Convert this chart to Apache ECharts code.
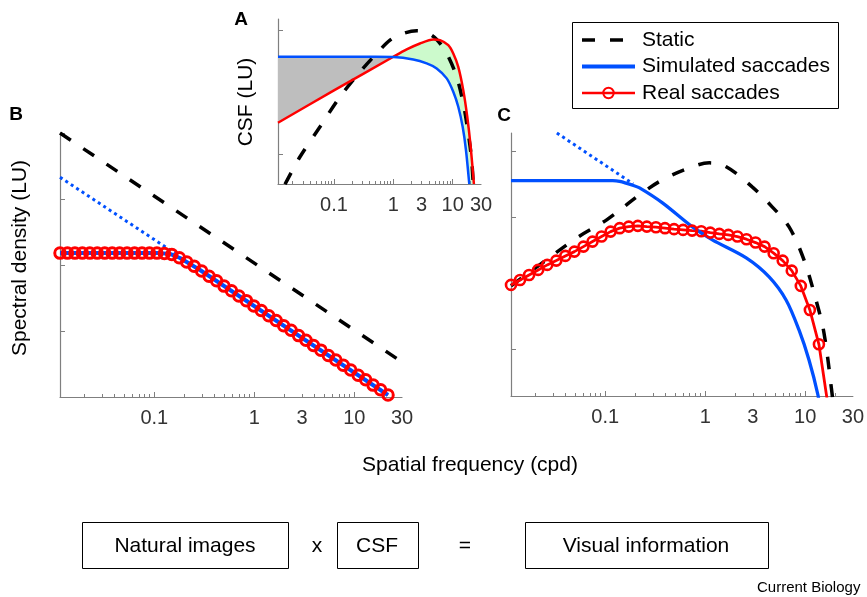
<!DOCTYPE html>
<html>
<head>
<meta charset="utf-8">
<script src="https://cdn.jsdelivr.net/npm/echarts@6/dist/echarts.min.js"></script>
<style>
  html, body { margin: 0; padding: 0; background: #fff; }
  #chart { width: 867px; height: 597px; }
</style>
</head>
<body>
<div id="chart"></div>
<script>
// spatial frequency range shared by all three panels (cpd)
const X_MIN = 0.0114
const X_MAX = 30
const tickLabels = [0.1, 1, 3, 10, 30]
const majorTicks = [0.1, 1, 10]
const minorTicks = [0.02, 0.03, 0.04, 0.05, 0.06, 0.07, 0.08, 0.09,
  0.2, 0.3, 0.4, 0.5, 0.6, 0.7, 0.8, 0.9,
  2, 3, 4, 5, 6, 7, 8, 9, 20]

// A: contrast sensitivity (log units)
const csfStaticX = [0.01496, 0.02679, 0.0582, 0.1263, 0.2742, 0.5248, 0.879, 1.473, 2.477, 3.648, 5.375, 7.925, 11.67, 15.07, 18.31, 20.89, 22.2]
const csfStaticY = [0.511, 0.956, 1.44, 1.924, 2.327, 2.624, 2.839, 2.947, 2.989, 2.963, 2.85, 2.624, 2.247, 1.818, 1.334, 0.903, 0.516]
const csfRealX = [0.0114, 0.1, 1.0, 1.68, 2.812, 4.714, 6.11, 8.43, 10.23, 12.42, 15.07, 17.6, 20.09, 22.8]
const csfRealY = [1.505, 2.027, 2.57, 2.689, 2.785, 2.85, 2.839, 2.758, 2.624, 2.408, 2.032, 1.602, 1.118, 0.516]
const csfSimX = [0.0114, 0.5, 1.0, 2.168, 3.648, 5.375, 7.925, 10.23, 12.42, 14.73, 16.74, 19.04]
const csfSimY = [2.569, 2.569, 2.566, 2.527, 2.463, 2.382, 2.221, 2.005, 1.763, 1.44, 1.065, 0.516]

// B: spectral density of the input (log units)
const specStaticX = [0.0114, 30]
const specStaticY = [4.0, 0.53]
const specDottedX = [0.0114, 0.16]
const specDottedY = [3.33, 2.18]
const specSimX = [0.0114, 0.114, 0.1435, 0.1807, 0.2275, 0.2864, 21.7]
const specSimY = [2.18, 2.18, 2.167, 2.106, 2.015, 1.924, 0.03]
const specRealX = [0.0114, 0.01353, 0.01607, 0.01908, 0.02265, 0.02689, 0.03193, 0.03791, 0.04501, 0.05343,
  0.06345, 0.07534, 0.08945, 0.1062, 0.1261, 0.1497, 0.1778, 0.211, 0.2506, 0.2975,
  0.3532, 0.4194, 0.4979, 0.5911, 0.7019, 0.8334, 0.9892, 1.174, 1.394, 1.655,
  1.966, 2.333, 2.771, 3.289, 3.906, 4.637, 5.506, 6.536, 7.761, 9.213,
  10.94, 12.99, 15.42, 18.31, 21.74]
const specRealY = [2.18, 2.18, 2.18, 2.18, 2.18, 2.18, 2.18, 2.18, 2.18, 2.18,
  2.18, 2.18, 2.18, 2.18, 2.175, 2.16, 2.11, 2.045, 1.98, 1.91,
  1.83, 1.76, 1.68, 1.61, 1.53, 1.46, 1.38, 1.31, 1.23, 1.16,
  1.08, 1.01, 0.93, 0.86, 0.78, 0.71, 0.63, 0.56, 0.48, 0.41,
  0.33, 0.26, 0.18, 0.11, 0.03]

// C: visual information (log units)
const infoStaticX = [0.0114, 0.0207, 0.0519, 0.1033, 0.2203, 0.3735, 0.7447, 1.099, 1.622, 2.949, 4.671, 6.9, 9.73, 12.82, 15.42, 18.54, 19.0]
const infoStaticY = [1.955, 2.242, 2.682, 2.955, 3.333, 3.561, 3.758, 3.818, 3.758, 3.455, 3.152, 2.848, 2.348, 1.742, 1.242, 0.333, 0.15]
const infoDottedX = [0.0328, 0.19]
const infoDottedY = [4.27, 3.5]
const infoSimX = [0.0114, 0.1186, 0.1393, 0.1876, 0.2203, 0.3735, 0.7447, 1.178, 2.571, 4.357, 6.438, 8.674, 10.92, 13.42, 13.9]
const infoSimY = [3.55, 3.55, 3.538, 3.48, 3.439, 3.212, 2.848, 2.652, 2.379, 2.091, 1.742, 1.288, 0.833, 0.303, 0.1]
const infoRealX = [0.0114, 0.01405, 0.0173, 0.02132, 0.02626, 0.03236, 0.03987, 0.04912, 0.06051, 0.07455,
  0.09183, 0.1131, 0.1394, 0.1717, 0.2116, 0.2606, 0.3211, 0.3956, 0.4873, 0.6004,
  0.7396, 0.9112, 1.1226, 1.383, 1.704, 2.099, 2.586, 3.186, 3.925, 4.836,
  5.957, 7.339, 9.042, 11.14, 13.72, 16.9]
const infoRealY = [1.97, 2.045, 2.121, 2.197, 2.273, 2.338, 2.409, 2.474, 2.55, 2.626,
  2.702, 2.777, 2.829, 2.853, 2.864, 2.853, 2.844, 2.829, 2.814, 2.803,
  2.792, 2.783, 2.762, 2.742, 2.727, 2.702, 2.662, 2.611, 2.55, 2.45,
  2.338, 2.186, 1.955, 1.591, 1.071, 0.15]

const FONT = "'Liberation Sans', Arial, Helvetica, sans-serif"
const AXIS = '#7f7f7f'
const BLUE = '#0050ff'
const RED = '#ff0000'
const DASH = [13, 15]
const DOTS = [3, 3.5]

const grids = [
  { left: 278, top: 19, width: 203, height: 165 }, // A
  { left: 60, top: 133, width: 342, height: 264 }, // B
  { left: 511, top: 133, width: 343, height: 263 }, // C
]
const yRanges = [[0.516, 3.18, [1, 2, 3]], [0, 4, [1, 2, 3, 4]], [0.288, 4.27, [1, 2, 3, 4]]]

const lg = Math.log10
const pts = (xs, ys) => xs.map((x, i) => [lg(x), ys[i]])

const xAxes = []
grids.forEach((g, i) => {
  xAxes.push({
    type: 'value', gridIndex: i, position: 'bottom', min: lg(X_MIN), max: lg(X_MAX),
    splitLine: { show: false },
    axisLine: { onZero: false, lineStyle: { color: AXIS, width: 1.2 } },
    axisTick: { inside: true, length: 5, customValues: majorTicks.map(lg), lineStyle: { color: AXIS } },
    axisLabel: {
      customValues: tickLabels.map(lg),
      formatter: (v) => String(+Math.pow(10, v).toPrecision(2)),
      margin: 11, fontSize: 20, color: '#333', fontFamily: FONT,
    },
  })
  xAxes.push({
    type: 'value', gridIndex: i, position: 'bottom', min: lg(X_MIN), max: lg(X_MAX),
    splitLine: { show: false },
    axisLine: { show: false },
    axisTick: { inside: true, length: 3, customValues: minorTicks.map(lg), lineStyle: { color: AXIS } },
    axisLabel: { show: false },
  })
})

const yAxes = yRanges.map(([min, max, ticks], i) => ({
  type: 'value', gridIndex: i, min, max,
  splitLine: { show: false },
  axisLine: { onZero: false, lineStyle: { color: AXIS, width: 1.2 } },
  axisTick: { inside: true, length: 5, customValues: ticks, lineStyle: { color: AXIS } },
  axisLabel: { show: false },
}))

function line (name, grid, xs, ys, lineStyle, extra) {
  return Object.assign({
    type: 'line', name, xAxisIndex: grid * 2, yAxisIndex: grid,
    data: pts(xs, ys), symbol: 'none', silent: true, clip: true,
    itemStyle: { color: 'rgba(0,0,0,0)', borderWidth: 0 },
    lineStyle,
  }, extra || {})
}

function circles (size, border) {
  return {
    symbol: 'circle', symbolSize: size, showAllSymbol: true,
    itemStyle: { color: 'rgba(255,255,255,0)', borderColor: RED, borderWidth: border },
  }
}

// filled region between the red and blue CSF curves of panel A
function band (keep, fill) {
  return {
    type: 'custom', xAxisIndex: 0, yAxisIndex: 0, silent: true,
    data: [[0, 1]],
    renderItem (params, api) {
      const top = csfRealX.map((x, i) => [x, csfRealY[i]]).filter(p => keep(p[0]))
      const bottom = csfSimX.map((x, i) => [x, csfSimY[i]]).filter(p => keep(p[0])).reverse()
      const points = top.concat(bottom).map(p => api.coord([lg(p[0]), p[1]]))
      return { type: 'polygon', shape: { points }, style: { fill, stroke: null } }
    },
  }
}

const series = [
  // B
  line('Static', 1, specStaticX, specStaticY, { color: '#000', width: 3.5, type: DASH }),
  line('spec-extrapolated', 1, specDottedX, specDottedY, { color: BLUE, width: 3, type: DOTS }),
  line('Real saccades', 1, specRealX, specRealY, { color: RED, width: 2.5 }, circles(10.5, 3)),
  line('Simulated saccades', 1, specSimX, specSimY, { color: BLUE, width: 4 }),
  // A
  band(x => x <= 1, '#bebebe'),
  line('Static', 0, csfStaticX, csfStaticY, { color: '#000', width: 3.5, type: DASH }, { smooth: 0.3 }),
  band(x => x >= 1, 'rgba(127,242,127,0.4)'),
  line('Real saccades', 0, csfRealX, csfRealY, { color: RED, width: 2.5 }, { smooth: 0.25 }),
  line('Simulated saccades', 0, csfSimX, csfSimY, { color: BLUE, width: 2.5 }, { smooth: 0.25 }),
  // C
  line('Static', 2, infoStaticX, infoStaticY, { color: '#000', width: 3.5, type: DASH }, { smooth: 0.35 }),
  line('info-extrapolated', 2, infoDottedX, infoDottedY, { color: BLUE, width: 3, type: DOTS }),
  line('Real saccades', 2, infoRealX, infoRealY, { color: RED, width: 2.8 }, circles(10, 2.6)),
  line('Simulated saccades', 2, infoSimX, infoSimY, { color: BLUE, width: 3.3 }, { smooth: 0.3 }),
]

const txt = (text, x, y, size, extra) => ({
  type: 'text', x, y, silent: true,
  style: Object.assign({ text, fontSize: size, fontFamily: FONT, fill: '#000', align: 'center', verticalAlign: 'middle' }, extra || {}),
})
const box = (x, y, w, h) => ({
  type: 'rect', silent: true,
  shape: { x: x + 0.5, y: y + 0.5, width: w, height: h },
  style: { fill: 'none', stroke: '#000', lineWidth: 1 },
})

const graphic = [
  txt('A', 241, 20, 19, { fontWeight: 'bold' }),
  txt('B', 16, 115, 19, { fontWeight: 'bold' }),
  txt('C', 504, 116, 19, { fontWeight: 'bold' }),
  Object.assign(txt('CSF (LU)', 246, 102, 21), { rotation: Math.PI / 2 }),
  Object.assign(txt('Spectral density (LU)', 20, 258, 21), { rotation: Math.PI / 2 }),
  txt('Spatial frequency (cpd)', 470, 465, 21),
  box(572, 22, 266, 86),
  box(82, 522, 206, 46),
  txt('Natural images', 185, 546, 21),
  txt('x', 317, 546, 21),
  box(337, 522, 81, 46),
  txt('CSF', 377, 546, 21),
  txt('=', 465, 546, 21),
  box(525, 522, 243, 46),
  txt('Visual information', 646, 546, 21),
  txt('Current Biology', 757, 588, 15, { align: 'left' }),
]

const chart = echarts.init(document.getElementById('chart'))
chart.setOption({
  animation: false,
  backgroundColor: '#fff',
  grid: grids,
  xAxis: xAxes,
  yAxis: yAxes,
  legend: {
    data: ['Static', 'Simulated saccades', 'Real saccades'],
    orient: 'vertical', left: 580, top: 29.5, padding: 0,
    itemWidth: 53, itemHeight: 13, itemGap: 5.5, selectedMode: false,
    lineStyle: { width: 'inherit' },
    textStyle: { fontSize: 21, fontFamily: FONT, color: '#000', padding: [0, 0, 0, 2] },
  },
  series,
  graphic,
})
</script>
</body>
</html>
